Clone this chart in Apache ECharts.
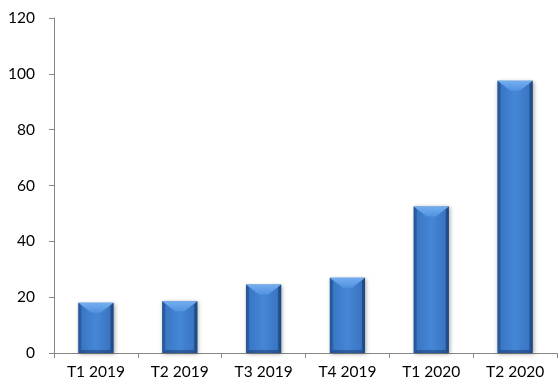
<!DOCTYPE html>
<html>
<head>
<meta charset="utf-8">
<script src="https://cdn.jsdelivr.net/npm/echarts@6/dist/echarts.min.js"></script>
<style>
  html, body { margin: 0; padding: 0; background: #fff; }
  #chart { width: 558px; height: 385px; }
</style>
</head>
<body>
<div id="chart"></div>
<script>
// Quarterly values
const categories = ['T1 2019', 'T2 2019', 'T3 2019', 'T4 2019', 'T1 2020', 'T2 2020'];
const values = [18, 18.5, 24.5, 27, 52.5, 97.5];
const yTicks = [0, 20, 40, 60, 80, 100, 120];

const FONT = 'Lato, "Open Sans", sans-serif';

// Bevelled bar drawn from the axis scales
function renderBar(params, api) {
  const idx = api.value(0);
  const top = api.coord([idx, api.value(1)]);
  const base = api.coord([idx, 0]);
  const bandW = api.size([1, 0])[0];
  const w = bandW * 0.42;
  const x = top[0] - w / 2;
  const y = top[1];
  const h = base[1] - top[1];
  const b = Math.min(10, h / 2);
  const side = 3;
  return {
    type: 'group',
    children: [
      {
        type: 'rect',
        shape: { x: x, y: y, width: w, height: h },
        style: {
          fill: new echarts.graphic.LinearGradient(0, 0, 1, 0, [
            { offset: 0, color: '#2c62a8' },
            { offset: 0.12, color: '#3a78c6' },
            { offset: 0.5, color: '#4586d6' },
            { offset: 0.88, color: '#3a76c2' },
            { offset: 1, color: '#2a5b9c' }
          ]),
          shadowColor: 'rgba(0,0,0,0.35)',
          shadowBlur: 4,
          shadowOffsetX: 1,
          shadowOffsetY: 1
        }
      },
      {
        // top bevel
        type: 'polygon',
        shape: { points: [[x, y], [x + w, y], [x + w - side - 10, y + b], [x + side + 10, y + b]] },
        style: {
          fill: new echarts.graphic.LinearGradient(0, 0, 0, 1, [
            { offset: 0, color: '#74aef0' },
            { offset: 1, color: '#5192df' }
          ])
        }
      },
      {
        // left bevel
        type: 'polygon',
        shape: { points: [[x, y], [x + side, y + side], [x + side, y + h - side], [x, y + h]] },
        style: { fill: 'rgba(30,70,130,0.45)' }
      },
      {
        // right bevel
        type: 'polygon',
        shape: { points: [[x + w, y], [x + w - side, y + side], [x + w - side, y + h - side], [x + w, y + h]] },
        style: { fill: 'rgba(20,55,110,0.55)' }
      },
      {
        // bottom bevel
        type: 'polygon',
        shape: { points: [[x, y + h], [x + side, y + h - side], [x + w - side, y + h - side], [x + w, y + h]] },
        style: { fill: 'rgba(20,55,110,0.5)' }
      }
    ]
  };
}

const chart = echarts.init(document.getElementById('chart'), null, { renderer: 'canvas' });
chart.setOption({
  animation: false,
  backgroundColor: '#ffffff',
  grid: { left: 54, right: 1, top: 18, bottom: 32, containLabel: false },
  xAxis: {
    type: 'category',
    data: categories,
    boundaryGap: true,
    axisLine: { lineStyle: { color: '#868686', width: 1 } },
    axisTick: { show: true, alignWithLabel: false, length: 5, lineStyle: { color: '#868686' } },
    axisLabel: { color: '#000', fontSize: 15.5, fontFamily: FONT, margin: 11 }
  },
  yAxis: {
    type: 'value',
    min: yTicks[0],
    max: yTicks[yTicks.length - 1],
    interval: 20,
    axisLine: { show: true, lineStyle: { color: '#868686', width: 1 } },
    axisTick: { show: true, length: 5, lineStyle: { color: '#868686' } },
    splitLine: { show: false },
    axisLabel: { color: '#000', fontSize: 15.5, fontFamily: FONT, margin: 19 }
  },
  series: [{
    type: 'custom',
    renderItem: renderBar,
    encode: { x: 0, y: 1 },
    data: values.map((v, i) => [i, v])
  }]
});
</script>
</body>
</html>
